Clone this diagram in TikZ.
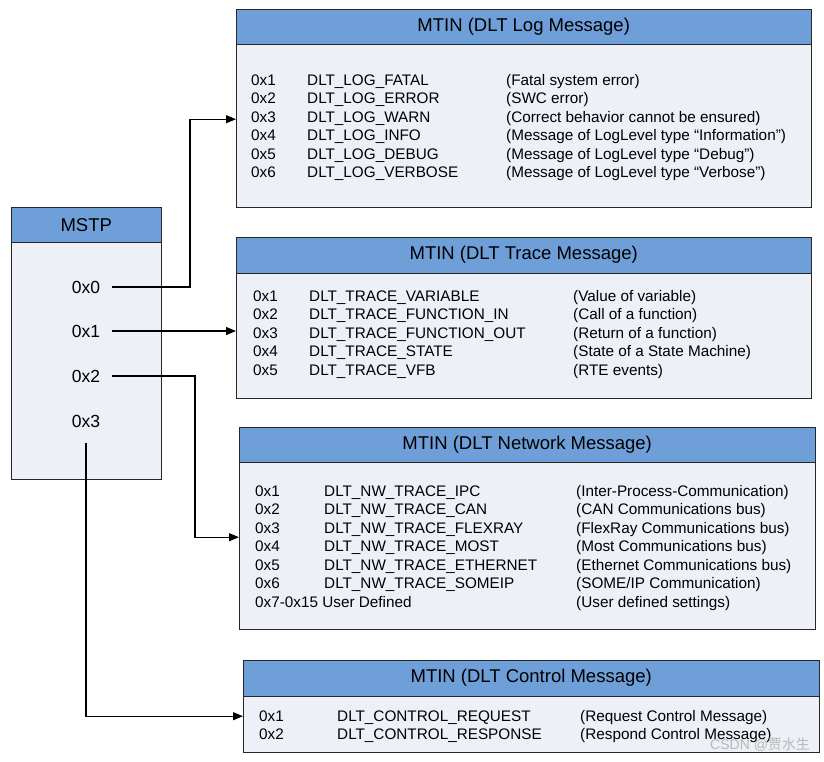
\documentclass[tikz,border=0pt]{standalone}
\usepackage{fontspec}
\setmainfont{Liberation Sans}
\newfontfamily\cjk{Noto Sans CJK SC}
\usetikzlibrary{arrows.meta}
\definecolor{hdrblue}{RGB}{111,159,217}
\definecolor{bodygray}{RGB}{237,240,246}
\tikzset{
  hdr/.style={draw=black!85, fill=hdrblue, anchor=north west, inner sep=0pt, minimum height=35pt, font=\fontsize{18.5}{20}\selectfont},
  bodybox/.style={draw=black!85, fill=bodygray, anchor=north west, inner sep=0pt},
  row/.style={anchor=base west, inner sep=0pt, font=\fontsize{15.3}{17}\selectfont},
  hexlbl/.style={inner sep=0pt, font=\fontsize{17.5}{19}\selectfont},
  conn/.style={line width=1.2pt, -{Triangle[length=10pt,width=8pt]}}
}
\begin{document}
\begin{tikzpicture}[x=1pt,y=-1pt]
    \useasboundingbox (0,0) rectangle (824,761);
    % MSTP
    \node[bodybox, minimum width=150pt, minimum height=237pt] (mstpbody) at (11,242) {};
    \node[hdr, minimum width=150pt] (mstphdr) at (11,207) {MSTP};
    \foreach \hx [count=\i from 0] in {287, 331, 376, 421} {\node[hexlbl] (m\i) at (86,\hx) {0x\i};}
    % log message
    \node[bodybox, minimum width=575pt, minimum height=163pt] (logbody) at (236,44) {};
    \node[hdr, minimum width=575pt] (loghdr) at (236,9) {MTIN (DLT Log Message)};
    \foreach \hx/\nm/\ds [count=\i] in {0x1/DLT\_LOG\_FATAL/(Fatal system error),
        0x2/DLT\_LOG\_ERROR/(SWC error),
        0x3/DLT\_LOG\_WARN/(Correct behavior cannot be ensured),
        0x4/DLT\_LOG\_INFO/(Message of LogLevel type “Information”),
        0x5/DLT\_LOG\_DEBUG/(Message of LogLevel type “Debug”),
        0x6/DLT\_LOG\_VERBOSE/(Message of LogLevel type “Verbose”)} {
        \pgfmathsetmacro\yb{66.5+18.5*\i}
        \node[row] (log-hex-\i) at (251,\yb) {\hx};
        \node[row] (log-nm-\i) at (307,\yb) {\nm};
        \node[row] (log-ds-\i) at (506,\yb) {\ds};
    }
    % trace message
    \node[bodybox, minimum width=575pt, minimum height=125pt] (trbody) at (236,273) {};
    \node[hdr, minimum width=575pt, minimum height=36pt] (trhdr) at (236,237) {MTIN (DLT Trace Message)};
    \foreach \hx/\nm/\ds [count=\i] in {0x1/DLT\_TRACE\_VARIABLE/(Value of variable),
        0x2/DLT\_TRACE\_FUNCTION\_IN/(Call of a function),
        0x3/DLT\_TRACE\_FUNCTION\_OUT/(Return of a function),
        0x4/DLT\_TRACE\_STATE/(State of a State Machine),
        0x5/DLT\_TRACE\_VFB/(RTE events)} {
        \pgfmathsetmacro\yb{282.5+18.5*\i}
        \node[row] (tr-hex-\i) at (253,\yb) {\hx};
        \node[row] (tr-nm-\i) at (309,\yb) {\nm};
        \node[row] (tr-ds-\i) at (573,\yb) {\ds};
    }
    % network message
    \node[bodybox, minimum width=576pt, minimum height=167pt] (nwbody) at (239,462) {};
    \node[hdr, minimum width=576pt] (nwhdr) at (239,427) {MTIN (DLT Network Message)};
    \foreach \hx/\nm/\ds [count=\i] in {0x1/DLT\_NW\_TRACE\_IPC/(Inter-Process-Communication),
        0x2/DLT\_NW\_TRACE\_CAN/(CAN Communications bus),
        0x3/DLT\_NW\_TRACE\_FLEXRAY/(FlexRay Communications bus),
        0x4/DLT\_NW\_TRACE\_MOST/(Most Communications bus),
        0x5/DLT\_NW\_TRACE\_ETHERNET/(Ethernet Communications bus),
        0x6/DLT\_NW\_TRACE\_SOMEIP/{(SOME/IP Communication)}} {
        \pgfmathsetmacro\yb{477.5+18.5*\i}
        \node[row] (nw-hex-\i) at (255,\yb) {\hx};
        \node[row] (nw-nm-\i) at (324,\yb) {\nm};
        \node[row] (nw-ds-\i) at (576,\yb) {\ds};
    }
    \node[row] (nw-hex-7) at (255,607) {0x7-0x15 User Defined};
    \node[row] (nw-ds-7) at (576,607) {(User defined settings)};
    % control message
    \node[bodybox, minimum width=576pt, minimum height=56pt] (ctbody) at (243,696) {};
    \node[hdr, minimum width=576pt, minimum height=36pt] (cthdr) at (243,660) {MTIN (DLT Control Message)};
    \foreach \hx/\nm/\ds [count=\i] in {0x1/DLT\_CONTROL\_REQUEST/(Request Control Message),
        0x2/DLT\_CONTROL\_RESPONSE/(Respond Control Message)} {
        \pgfmathsetmacro\yb{702.5+18.5*\i}
        \node[row] (ct-hex-\i) at (259,\yb) {\hx};
        \node[row] (ct-nm-\i) at (337,\yb) {\nm};
        \node[row] (ct-ds-\i) at (580,\yb) {\ds};
    }
    \node[anchor=base west, inner sep=0pt, text=black!28, font=\fontsize{14}{16}\selectfont] (wmark) at (710,749) {CSDN @{\cjk 贾水生}};
    % connectors
    \coordinate (bend0) at (190,119);
    \coordinate (bend2) at (195,537);
    \draw[conn] ([xshift=12pt]m0.east) -- (m0.east -| bend0) |- ([yshift=6.5pt]logbody.west);
    \draw[conn] ([xshift=12pt]m1.east) -- (m1.east -| trbody.west);
    \draw[conn] ([xshift=12pt]m2.east) -- (m2.east -| bend2) |- ([yshift=8.5pt]nwbody.west);
    \draw[conn] ([yshift=-16pt]m3.south) |- ([yshift=8pt]ctbody.west);
\end{tikzpicture}
\end{document}
